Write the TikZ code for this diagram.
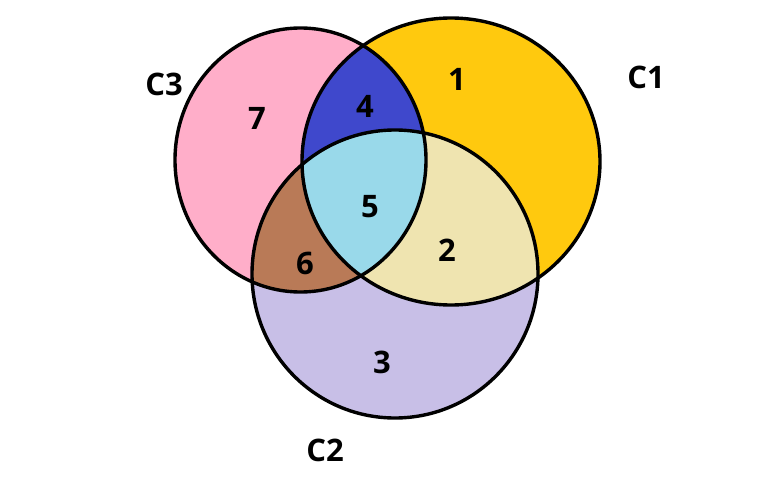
\documentclass[tikz,border=0pt]{standalone}
\usepackage{fontspec}
\setmainfont{Open Sans}
\definecolor{gold}{HTML}{FFC90E}
\definecolor{rose}{HTML}{FFAEC9}
\definecolor{lavender}{HTML}{C8BFE7}
\definecolor{indigo}{HTML}{3F48CC}
\definecolor{lightyel}{HTML}{EFE4B0}
\definecolor{turq}{HTML}{99D9EA}
\definecolor{brownish}{HTML}{B97A57}
\begin{document}
\begin{tikzpicture}[x=1pt,y=-1pt,
  lbl/.style={font=\bfseries\fontsize{31}{34}\selectfont, inner sep=0pt, text=black},
  outline/.style={draw=black, line width=3.4pt}]
\useasboundingbox (0,0) rectangle (770,489);
% base fills
\fill[rose] (300.5,160) ellipse [x radius=125.5pt, y radius=132pt];
\fill[gold] (451,161.5) ellipse [x radius=149pt, y radius=143.5pt];
\fill[lavender] (395,274) ellipse [x radius=143pt, y radius=144pt];
% intersections
\begin{scope}
  \clip (451,161.5) ellipse [x radius=149pt, y radius=143.5pt];
  \fill[indigo] (300.5,160) ellipse [x radius=125.5pt, y radius=132pt];
  \fill[lightyel] (395,274) ellipse [x radius=143pt, y radius=144pt];
\end{scope}
\begin{scope}
  \clip (300.5,160) ellipse [x radius=125.5pt, y radius=132pt];
  \fill[brownish] (395,274) ellipse [x radius=143pt, y radius=144pt];
  \clip (451,161.5) ellipse [x radius=149pt, y radius=143.5pt];
  \fill[turq] (395,274) ellipse [x radius=143pt, y radius=144pt];
\end{scope}
% outlines
\draw[outline] (300.5,160) ellipse [x radius=125.5pt, y radius=132pt];
\draw[outline] (451,161.5) ellipse [x radius=149pt, y radius=143.5pt];
\draw[outline] (395,274) ellipse [x radius=143pt, y radius=144pt];
% labels
\node[lbl] (n1) at (457,79) {1};
\node[lbl] (n4) at (365,106) {4};
\node[lbl] (n7) at (257,118) {7};
\node[lbl] (n5) at (370,207) {5};
\node[lbl] (n2) at (447,250) {2};
\node[lbl] (n6) at (305,263) {6};
\node[lbl] (n3) at (382,362) {3};
\node[lbl] (c1) at (646,77) {C1};
\node[lbl] (c3) at (164,84) {C3};
\node[lbl] (c2) at (325,450) {C2};
\end{tikzpicture}
\end{document}
